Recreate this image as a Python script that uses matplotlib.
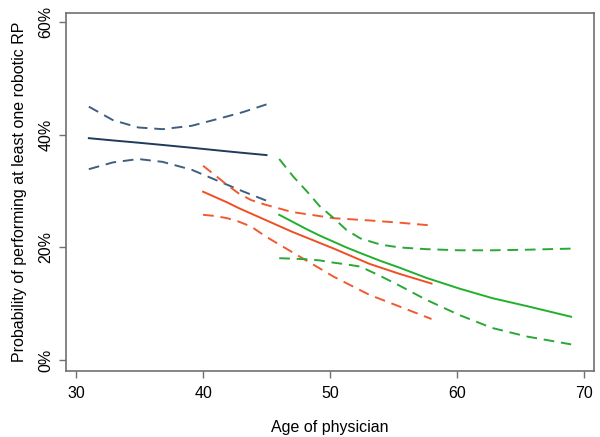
import matplotlib
matplotlib.use('Agg')
import matplotlib.pyplot as plt
from matplotlib.ticker import FuncFormatter

plt.rcParams['font.family'] = ['Liberation Sans', 'DejaVu Sans']

# blue group (youngest)
blue_x = [31, 32.9, 34.9, 36.8, 39.1, 41.3, 43.1, 45]
blue_fit = [39.4, 39.0, 38.6, 38.2, 37.7, 37.2, 36.8, 36.4]
blue_hi = [45.0, 42.6, 41.3, 41.0, 41.6, 42.9, 44.0, 45.4]
blue_lo = [33.9, 35.1, 35.7, 35.2, 33.8, 31.7, 30.0, 28.3]

# orange group
orange_x = [40, 40.9, 41.9, 42.8, 43.8, 44.9, 47.0, 50.3, 53.1, 55.5, 58]
orange_fit = [29.9, 29.0, 28.0, 27.0, 26.0, 24.9, 22.8, 19.8, 17.1, 15.3, 13.6]
orange_hi = [34.5, 32.9, 31.1, 29.6, 28.4, 27.6, 26.3, 25.2, 24.8, 24.4, 23.9]
orange_lo = [25.8, 25.6, 25.2, 24.6, 23.7, 22.0, 19.2, 14.8, 11.6, 9.5, 7.3]

# green group (oldest)
green_x = [46, 47.1, 48.2, 49.2, 50.3, 51.3, 52.4, 54.0, 55.5, 57.6, 60.2, 62.8, 65.5, 69]
green_fit = [25.8, 24.5, 23.2, 22.1, 21.0, 20.0, 19.0, 17.6, 16.4, 14.6, 12.7, 11.0, 9.6, 7.7]
green_hi = [35.7, 32.6, 29.9, 27.3, 25.2, 23.1, 21.6, 20.5, 20.0, 19.7, 19.5, 19.5, 19.6, 19.8]
green_lo = [18.1, 18.0, 17.9, 17.7, 17.3, 17.0, 16.6, 14.9, 13.2, 10.7, 8.0, 5.7, 4.2, 2.8]

fig = plt.figure(figsize=(6, 4.37), dpi=100, facecolor='white')
ax = fig.add_axes([0.11, 0.152, 0.88, 0.818])

dash = (0, (5.5, 3.5))
lw = 1.4
ax.plot(blue_x, blue_fit, color='#1f3a5a', lw=lw)
ax.plot(blue_x, blue_hi, color='#3e5f80', lw=lw, linestyle=dash)
ax.plot(blue_x, blue_lo, color='#3e5f80', lw=lw, linestyle=dash)

ax.plot(orange_x, orange_fit, color='#f04e23', lw=lw)
ax.plot(orange_x, orange_hi, color='#f05a30', lw=lw, linestyle=dash)
ax.plot(orange_x, orange_lo, color='#f05a30', lw=lw, linestyle=dash)

ax.plot(green_x, green_fit, color='#22b02c', lw=lw)
ax.plot(green_x, green_hi, color='#2aa835', lw=lw, linestyle=dash)
ax.plot(green_x, green_lo, color='#2aa835', lw=lw, linestyle=dash)

ax.set_xlim(29.2, 70.8)
ax.set_ylim(-1.85, 61.6)
ax.set_xticks([30, 40, 50, 60, 70])
ax.set_yticks([0, 20, 40, 60])
ax.yaxis.set_major_formatter(FuncFormatter(lambda v, p: '%d%%' % v))
for lab in ax.get_yticklabels():
    lab.set_rotation(90)
    lab.set_va('center')

ax.tick_params(axis='both', labelsize=11.5, color='#707070', length=5, width=1, direction='out')
ax.tick_params(axis='x', pad=6)
ax.tick_params(axis='y', pad=4)
for s in ax.spines.values():
    s.set_color('#707070')
    s.set_linewidth(1.2)

ax.set_xlabel('Age of physician', fontsize=11.5, labelpad=14)
ax.set_ylabel('Probability of performing at least one robotic RP', fontsize=11.5, labelpad=8)

fig.savefig('out.png', dpi=100, facecolor='white')
